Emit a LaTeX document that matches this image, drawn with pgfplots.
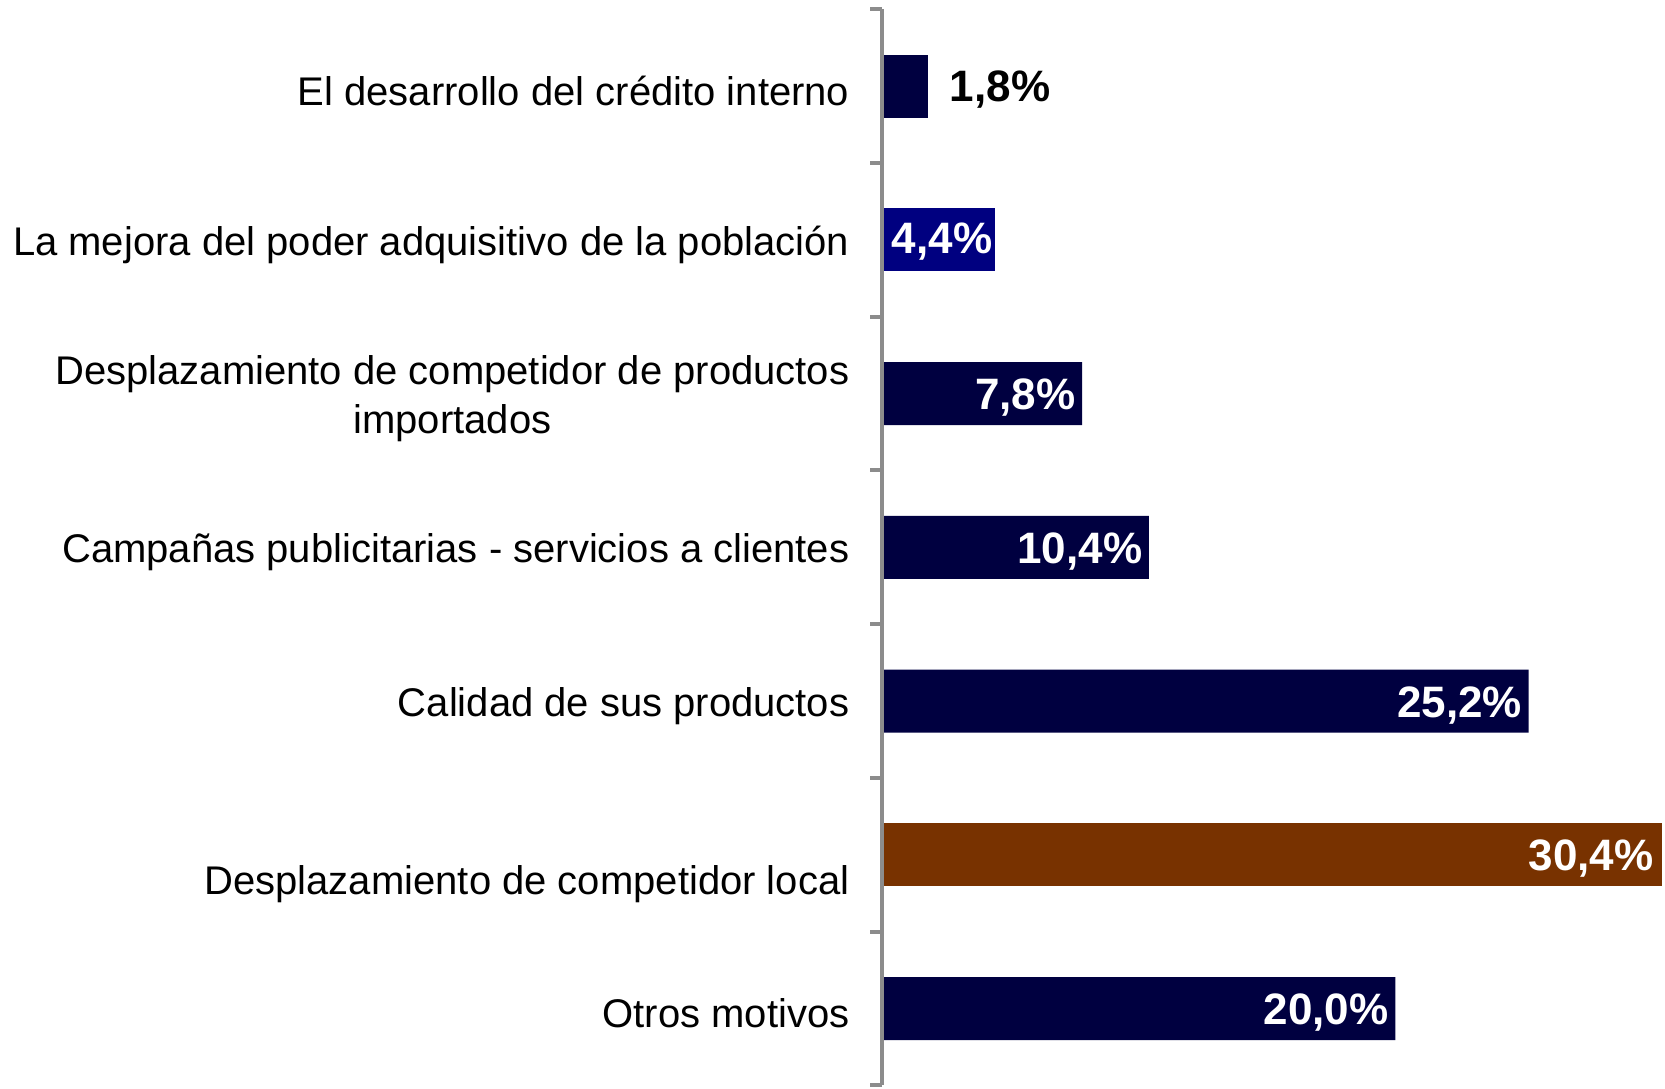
\documentclass[border=0pt]{standalone}
\usepackage{pgfplots}
\pgfplotsset{compat=1.18}
\usepackage{fontspec}
\setmainfont{Liberation Sans}
\definecolor{darkbar}{HTML}{000040}
\definecolor{navybar}{HTML}{000080}
\definecolor{brownbar}{HTML}{783200}
\definecolor{axgray}{HTML}{8C8C8C}
\begin{document}
\begin{tikzpicture}
\begin{axis}[
  scale only axis, width=234bp, height=322.8bp,
  xmin=0, xmax=30.4, ymin=0.5, ymax=7.5, y dir=reverse,
  xbar, bar width=18.9bp, bar shift=0pt,
  axis x line=none, axis y line=left,
  y axis line style={-, draw=axgray, line width=1.2bp},
  ytick={1,...,7},
  yticklabels={
    El desarrollo del crédito interno,
    La mejora del poder adquisitivo de la población,
    {Desplazamiento de competidor de productos\\importados},
    Campañas publicitarias - servicios a clientes,
    Calidad de sus productos,
    {\raisebox{-7.3bp}[\height][\depth]{Desplazamiento de competidor local}},
    Otros motivos},
  major tick length=0pt,
  minor ytick={0.5,1.5,...,7.5},
  minor tick length=3.6bp,
  tick align=outside,
  tick style={draw=axgray, line width=1.2bp},
  yticklabel style={font=\fontsize{12bp}{14.7bp}\selectfont, align=center, inner xsep=0pt, xshift=-9.6bp, yshift=-1.4bp, text=black},
  /pgf/number format/assume math mode=true,
  clip=false, axis on top,
  nodes near coords={\pgfmathprintnumber[fixed,fixed zerofill,precision=1,use comma]{\pgfplotspointmeta}\%},
]
\addplot[fill=darkbar, draw=none,
  every node near coord/.append style={font=\fontsize{13.2bp}{15bp}\selectfont\bfseries, text=white, anchor=east, inner xsep=0pt, xshift=-1.8bp, yshift=-1.2bp}]
  coordinates {(7.8,3) (10.4,4) (25.2,5) (20.0,7)};
\addplot[fill=darkbar, draw=none,
  every node near coord/.append style={font=\fontsize{13.2bp}{15bp}\selectfont\bfseries, text=black, anchor=west, inner xsep=0pt, xshift=6.3bp, yshift=-1.0bp}]
  coordinates {(1.8,1)};
\addplot[fill=navybar, draw=none,
  every node near coord/.append style={font=\fontsize{13.2bp}{15bp}\selectfont\bfseries, text=white, anchor=east, inner xsep=0pt, xshift=-0.6bp, yshift=-0.6bp}]
  coordinates {(4.4,2)};
\addplot[fill=brownbar, draw=none,
  every node near coord/.append style={font=\fontsize{13.2bp}{15bp}\selectfont\bfseries, text=white, anchor=east, inner xsep=0pt, xshift=-2.4bp, yshift=-1.2bp}]
  coordinates {(30.4,6)};
\path (axis cs:-34.37,0.44) rectangle (axis cs:30.51,7.518);
\end{axis}
\end{tikzpicture}
\end{document}
